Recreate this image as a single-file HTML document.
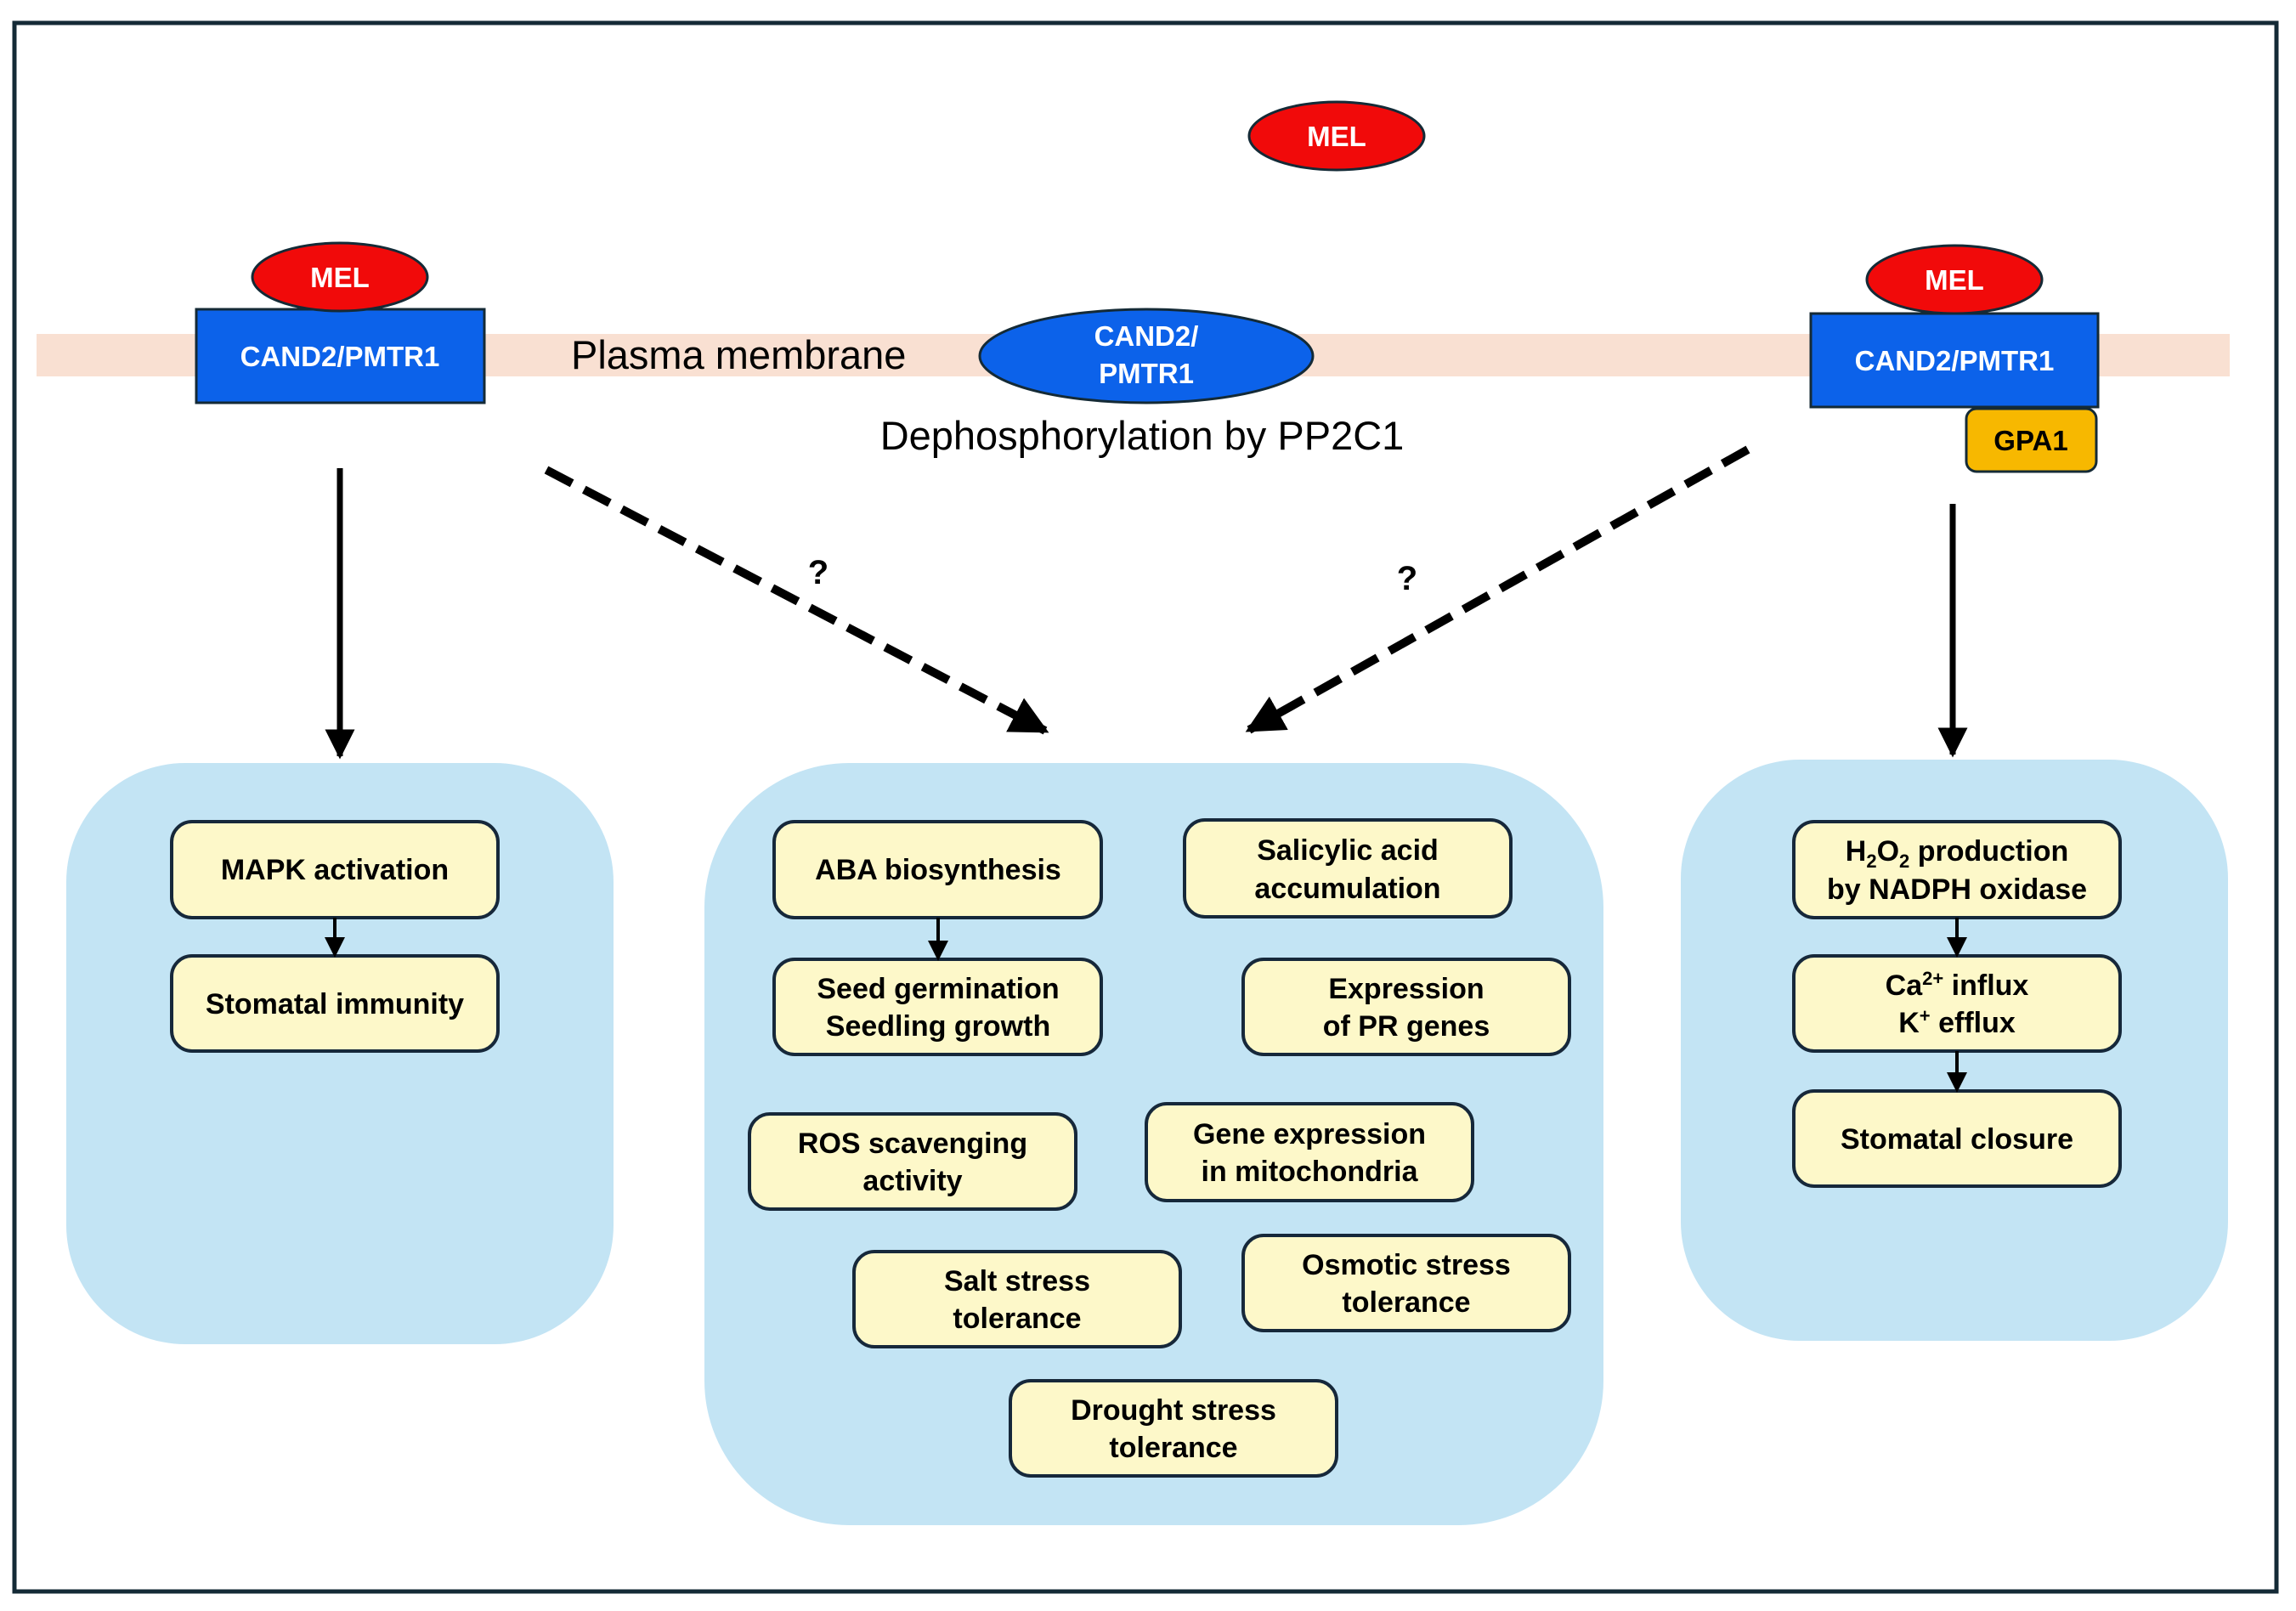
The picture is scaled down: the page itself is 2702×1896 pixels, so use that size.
<!DOCTYPE html>
<html><head><meta charset="utf-8"><style>
html,body{margin:0;padding:0;background:#fff}
svg{display:block}
text{font-family:"Liberation Sans",Arial,sans-serif}
.bx{fill:#fdf8c9;stroke:#16283a;stroke-width:4}
.bt{font-size:34px;font-weight:bold;fill:#000;text-anchor:middle}
.wt{font-size:33px;font-weight:bold;fill:#fff;text-anchor:middle}
.pn{fill:#c3e4f4}
</style></head><body>
<svg width="2702" height="1896" viewBox="0 0 2702 1896" xmlns="http://www.w3.org/2000/svg">
<defs>
<marker id="ah" markerWidth="6" markerHeight="6" refX="5" refY="3" orient="auto" markerUnits="strokeWidth"><path d="M0,0 L6,3 L0,6 z" fill="#000"/></marker>
<marker id="as" markerWidth="5" markerHeight="5" refX="4.5" refY="2.5" orient="auto" markerUnits="strokeWidth"><path d="M0,0 L5,2.5 L0,5 z" fill="#000"/></marker>
<marker id="ad" markerWidth="4.5" markerHeight="4.5" refX="4" refY="2.25" orient="auto" markerUnits="strokeWidth"><path d="M0,0 L4.5,2.25 L0,4.5 z" fill="#000"/></marker>
</defs>
<rect x="17" y="27" width="2662" height="1846" fill="#fff" stroke="#142a36" stroke-width="5"/>
<rect x="43" y="393" width="2581" height="50" fill="#f9e0d2"/>
<!-- left receptor -->
<rect x="231" y="364" width="339" height="110" fill="#0c62ea" stroke="#142a36" stroke-width="3"/>
<text class="wt" x="400" y="431">CAND2/PMTR1</text>
<ellipse cx="400" cy="326" rx="103" ry="40" fill="#f10a0a" stroke="#142a36" stroke-width="3"/>
<text class="wt" x="400" y="338">MEL</text>
<text x="672" y="434" font-size="47" fill="#000">Plasma membrane</text>
<!-- center -->
<ellipse cx="1349" cy="419" rx="196" ry="55" fill="#0c62ea" stroke="#142a36" stroke-width="3"/>
<text class="wt" x="1349" y="407">CAND2/</text>
<text class="wt" x="1349" y="451">PMTR1</text>
<text x="1344" y="529" font-size="47" fill="#000" text-anchor="middle">Dephosphorylation by PP2C1</text>
<ellipse cx="1573" cy="160" rx="103" ry="40" fill="#f10a0a" stroke="#142a36" stroke-width="3"/>
<text class="wt" x="1573" y="172">MEL</text>
<!-- right -->
<rect x="2131" y="369" width="338" height="110" fill="#0c62ea" stroke="#142a36" stroke-width="3"/>
<text class="wt" x="2300" y="436">CAND2/PMTR1</text>
<ellipse cx="2300" cy="329" rx="103" ry="40" fill="#f10a0a" stroke="#142a36" stroke-width="3"/>
<text class="wt" x="2300" y="341">MEL</text>
<rect x="2314" y="481" width="153" height="74" rx="12" fill="#f7b800" stroke="#142a36" stroke-width="3"/>
<text x="2390" y="530" font-size="33" font-weight="bold" text-anchor="middle" fill="#000">GPA1</text>
<!-- arrows -->
<line x1="400" y1="551" x2="400" y2="890" stroke="#000" stroke-width="7" marker-end="url(#as)"/>
<line x1="2298" y1="593" x2="2298" y2="888" stroke="#000" stroke-width="7" marker-end="url(#as)"/>
<line x1="643" y1="553" x2="1230" y2="860" stroke="#000" stroke-width="10" stroke-dasharray="34,16" marker-end="url(#ad)"/>
<line x1="2057" y1="529" x2="1470" y2="859" stroke="#000" stroke-width="10" stroke-dasharray="34,16" marker-end="url(#ad)"/>
<text x="963" y="687" font-size="40" font-weight="bold" text-anchor="middle">?</text>
<text x="1656" y="694" font-size="40" font-weight="bold" text-anchor="middle">?</text>
<!-- panels -->
<rect class="pn" x="78" y="898" width="644" height="684" rx="140"/>
<rect class="pn" x="829" y="898" width="1058" height="897" rx="170"/>
<rect class="pn" x="1978" y="894" width="644" height="684" rx="140"/>
<!-- boxes -->
<rect class="bx" x="202" y="967" width="384" height="113" rx="24"/><text class="bt" x="394" y="1035">MAPK activation</text>
<rect class="bx" x="202" y="1125" width="384" height="112" rx="24"/><text class="bt" x="394" y="1193">Stomatal immunity</text>
<line x1="394" y1="1080" x2="394" y2="1123" stroke="#000" stroke-width="4" marker-end="url(#ah)"/>

<rect class="bx" x="911" y="967" width="385" height="113" rx="24"/><text class="bt" x="1104" y="1035">ABA biosynthesis</text>
<rect class="bx" x="1394" y="965" width="384" height="114" rx="24"/><text class="bt" x="1586" y="1012">Salicylic acid</text><text class="bt" x="1586" y="1057">accumulation</text>
<rect class="bx" x="911" y="1129" width="385" height="112" rx="24"/><text class="bt" x="1104" y="1175">Seed germination</text><text class="bt" x="1104" y="1219">Seedling growth</text>
<line x1="1104" y1="1080" x2="1104" y2="1127" stroke="#000" stroke-width="4" marker-end="url(#ah)"/>
<rect class="bx" x="1463" y="1129" width="384" height="112" rx="24"/><text class="bt" x="1655" y="1175">Expression</text><text class="bt" x="1655" y="1219">of PR genes</text>
<rect class="bx" x="882" y="1311" width="384" height="112" rx="24"/><text class="bt" x="1074" y="1357">ROS scavenging</text><text class="bt" x="1074" y="1401">activity</text>
<rect class="bx" x="1349" y="1299" width="384" height="114" rx="24"/><text class="bt" x="1541" y="1346">Gene expression</text><text class="bt" x="1541" y="1390">in mitochondria</text>
<rect class="bx" x="1005" y="1473" width="384" height="112" rx="24"/><text class="bt" x="1197" y="1519">Salt stress</text><text class="bt" x="1197" y="1563">tolerance</text>
<rect class="bx" x="1463" y="1454" width="384" height="112" rx="24"/><text class="bt" x="1655" y="1500">Osmotic stress</text><text class="bt" x="1655" y="1544">tolerance</text>
<rect class="bx" x="1189" y="1625" width="384" height="112" rx="24"/><text class="bt" x="1381" y="1671">Drought stress</text><text class="bt" x="1381" y="1715">tolerance</text>

<rect class="bx" x="2111" y="967" width="384" height="113" rx="24"/><text class="bt" x="2303" y="1013">H<tspan font-size="22" dy="8">2</tspan><tspan dy="-8">O</tspan><tspan font-size="22" dy="8">2</tspan><tspan dy="-8"> production</tspan></text><text class="bt" x="2303" y="1058">by NADPH oxidase</text>
<rect class="bx" x="2111" y="1125" width="384" height="112" rx="24"/><text class="bt" x="2303" y="1171">Ca<tspan font-size="22" dy="-12">2+</tspan><tspan dy="12"> influx</tspan></text><text class="bt" x="2303" y="1215">K<tspan font-size="22" dy="-12">+</tspan><tspan dy="12"> efflux</tspan></text>
<rect class="bx" x="2111" y="1284" width="384" height="112" rx="24"/><text class="bt" x="2303" y="1352">Stomatal closure</text>
<line x1="2303" y1="1080" x2="2303" y2="1123" stroke="#000" stroke-width="4" marker-end="url(#ah)"/>
<line x1="2303" y1="1237" x2="2303" y2="1282" stroke="#000" stroke-width="4" marker-end="url(#ah)"/>
</svg>
</body></html>
